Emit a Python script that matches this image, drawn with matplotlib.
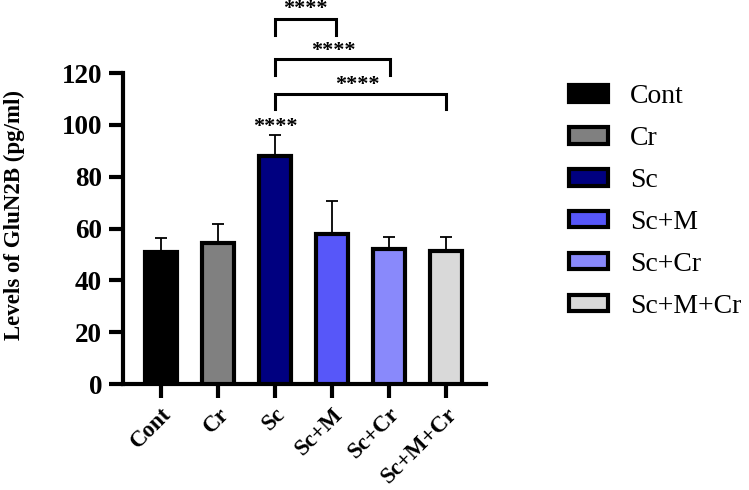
import matplotlib
matplotlib.use("Agg")
from matplotlib import pyplot as plt
from matplotlib.patches import Patch

groups = ["Cont", "Cr", "Sc", "Sc+M", "Sc+Cr", "Sc+M+Cr"]
means = [51, 54.5, 88, 58, 52, 51.5]
sd = [5.3, 7.3, 8, 12.8, 4.8, 5.3]
colors = ["#000000", "#808080", "#000080", "#5757f9", "#8989fb", "#d9d9d9"]

# significance brackets: (from, to, bar height, leg bottom, star height)
brackets = [(2, 3.07, 140.8, 134.7, 144.6),
            (2, 4.02, 125.3, 119.3, 128.3),
            (2, 5.0, 111.8, 106.2, 115.2)]
star_x = [2.53, 3.03, 3.45]

plt.rcParams['font.family'] = ['Liberation Serif', 'DejaVu Serif']

fig = plt.figure(figsize=(7.49, 4.90), dpi=100)
ax = fig.add_axes([0.164, 0.216, 0.485, 0.635])

x = list(range(len(groups)))
ax.bar(x, means, width=0.56, color=colors, edgecolor="black", linewidth=3, zorder=3)
ax.errorbar(x, means, yerr=[[0] * len(sd), sd], fmt="none", ecolor="black",
            elinewidth=1.3, capsize=4.3, capthick=1.3, zorder=2)

ax.text(2, 99.3, "****", ha="center", va="center", fontsize=16, fontweight="bold")
for (a, b, top, bot, sy), sx in zip(brackets, star_x):
    ax.plot([a, a, b, b], [bot, top, top, bot], color="black", lw=2.2,
            clip_on=False, solid_joinstyle="miter")
    ax.text(sx, sy, "****", ha="center", va="center", fontsize=16,
            fontweight="bold", clip_on=False)

ax.set_xlim(-0.667, 5.7)
ax.set_ylim(0, 120)
ax.set_yticks(range(0, 121, 20))
ax.set_xticks(x)
ax.set_xticklabels(groups, rotation=45, ha="right", rotation_mode="anchor",
                   fontsize=16.5, fontweight="bold")
for lab in ax.get_yticklabels():
    lab.set_fontsize(19.5)
    lab.set_fontweight("bold")
ax.tick_params(axis="both", width=3, length=10, pad=5)
ax.tick_params(axis="x", pad=4)
for s in ["top", "right"]:
    ax.spines[s].set_visible(False)
for s in ["left", "bottom"]:
    ax.spines[s].set_linewidth(3)
ax.set_ylabel("Levels of GluN2B (pg/ml)", fontsize=16.5, fontweight="bold")
ax.yaxis.set_label_coords(-0.27, 0.543)

handles = [Patch(facecolor=c, edgecolor="black", linewidth=3) for c in colors]
fig.legend(handles, groups, loc="upper left", bbox_to_anchor=(0.745, 0.851),
           frameon=False, fontsize=20, handlelength=1.4, handleheight=0.55,
           labelspacing=0.61, handletextpad=0.8, borderaxespad=0)

fig.savefig("out.png", dpi=100)
